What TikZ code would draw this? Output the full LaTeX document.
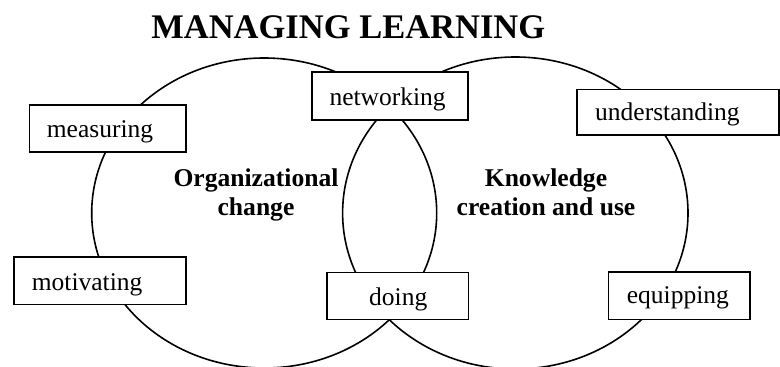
\documentclass[tikz,border=0pt]{standalone}
\usepackage{fontspec}
\setmainfont{Liberation Serif}
\begin{document}
\begin{tikzpicture}[x=1pt,y=-1pt,
  ring/.style={draw=black,line width=1.6pt},
  box/.style={draw=black,line width=1.6pt,fill=white,rectangle,inner sep=0pt},
  word/.style={anchor=base west,inner sep=0pt,font=\fontsize{25.5}{28}\selectfont},
  heading/.style={anchor=base,inner sep=0pt,font=\bfseries\fontsize{34.5}{40}\selectfont},
  area/.style={anchor=base,inner sep=0pt,align=center,font=\bfseries\fontsize{25.6}{28.3}\selectfont}]
\useasboundingbox[fill=white] (0,0) rectangle (780,367);
% circles
\draw[ring] (264.2,213) ellipse [x radius=172.5, y radius=155];
\draw[ring] (515.3,213) ellipse [x radius=172.7, y radius=156];
% title
\node[heading] (title) at (348.3,38.3) {MANAGING LEARNING};
% area labels
\node[area] (org) at (256,215) {Organizational\\change};
\node[area] (know) at (546,215) {Knowledge\\creation and use};
% boxes
\draw[box] (29.3,105) rectangle (186,151.7);
\node[word] (measuring) at (46.7,137.3) {measuring};
\draw[box] (14,256.7) rectangle (185.7,304.3);
\node[word] (motivating) at (31.7,290) {motivating};
\draw[box] (311.7,71.7) rectangle (467.7,120);
\node[word] (networking) at (329.3,105) {networking};
\draw[box] (326.7,272.3) rectangle (468.3,319.3);
\node[word] (doing) at (369,305) {doing};
\draw[box] (576.7,89.3) rectangle (779,135);
\node[word] (understanding) at (595,120) {understanding};
\draw[box] (608.3,271.7) rectangle (750,319.3);
\node[word] (equipping) at (626.7,303.3) {equipping};
\end{tikzpicture}
\end{document}
